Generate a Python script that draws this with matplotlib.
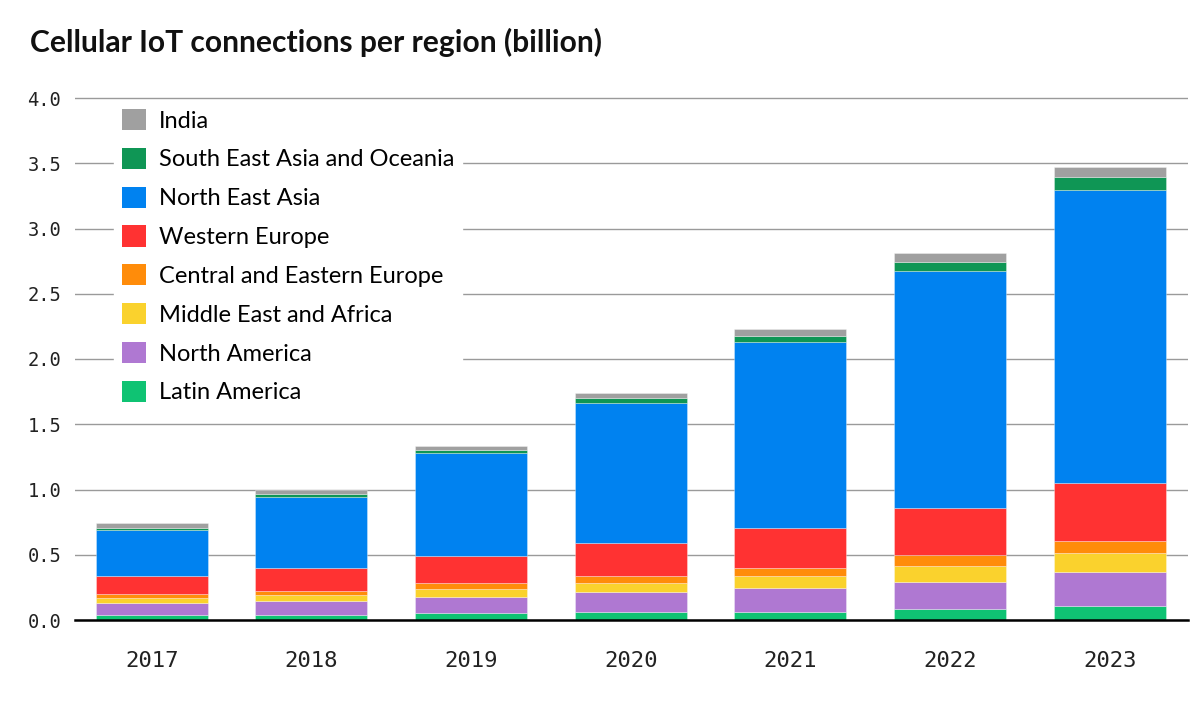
import numpy as np
import matplotlib.pyplot as plt
from matplotlib.patches import Patch

# data (billion connections)
years = ['2017', '2018', '2019', '2020', '2021', '2022', '2023']
latin_america = [0.035, 0.035, 0.050, 0.058, 0.065, 0.088, 0.104]
north_america = [0.092, 0.107, 0.123, 0.153, 0.184, 0.207, 0.260]
middle_east_africa = [0.038, 0.046, 0.061, 0.069, 0.085, 0.115, 0.146]
central_eastern_europe = [0.038, 0.038, 0.046, 0.054, 0.061, 0.085, 0.092]
western_europe = [0.131, 0.169, 0.207, 0.253, 0.307, 0.360, 0.445]
north_east_asia = [0.352, 0.544, 0.790, 1.073, 1.426, 1.818, 2.247]
sea_oceania = [0.016, 0.023, 0.023, 0.040, 0.046, 0.067, 0.099]
india = [0.038, 0.031, 0.030, 0.040, 0.054, 0.070, 0.077]

series = [
    ('Latin America', latin_america, '#0FC373'),
    ('North America', north_america, '#AF78D2'),
    ('Middle East and Africa', middle_east_africa, '#FAD22D'),
    ('Central and Eastern Europe', central_eastern_europe, '#FF8C0A'),
    ('Western Europe', western_europe, '#FF3232'),
    ('North East Asia', north_east_asia, '#0082F0'),
    ('South East Asia and Oceania', sea_oceania, '#0F9655'),
    ('India', india, '#A0A0A0'),
]

fig = plt.figure(figsize=(12, 7.17), dpi=100)
ymax = 4.05
ax = fig.add_axes([75 / 1200, (717 - 620) / 717,
                   (1188 - 75) / 1200, 522 * ymax / 4.0 / 717])

x = np.arange(len(years))
bottom = np.zeros(len(years))
for name, vals, col in series:
    ax.bar(x, vals, width=0.70, bottom=bottom, color=col,
           edgecolor=(1, 1, 1, 0.45), linewidth=0.5, zorder=3)
    bottom += np.array(vals)

ax.set_xlim(-0.48, 6.49)
ax.set_ylim(0, ymax)
ax.set_yticks(np.arange(0, 4.01, 0.5))
ax.set_yticklabels([f'{v:.1f}' for v in np.arange(0, 4.01, 0.5)])
ax.set_xticks(x)
ax.set_xticklabels(years)
ax.tick_params(length=0, colors='#222222')
ax.tick_params(axis='y', pad=10, labelsize=13.5)
ax.tick_params(axis='x', pad=22, labelsize=16)
for lab in ax.get_xticklabels() + ax.get_yticklabels():
    lab.set_family('DejaVu Sans Mono')

ax.grid(axis='y', color='#9a9a9a', linewidth=1.0, zorder=0)
ax.set_axisbelow(True)
for s in ['top', 'right', 'left']:
    ax.spines[s].set_visible(False)
ax.spines['bottom'].set_color('black')
ax.spines['bottom'].set_linewidth(1.8)
ax.spines['bottom'].set_zorder(5)

handles = [Patch(facecolor=col, label=name) for name, vals, col in series][::-1]
leg = ax.legend(handles=handles, loc='upper left',
                bbox_to_anchor=(27 / 1113, 1.005),
                frameon=True, fancybox=False, framealpha=1,
                facecolor='white', edgecolor='white',
                prop={'family': 'Lato', 'size': 17},
                handlelength=1.0, handleheight=1.0, handletextpad=0.55,
                labelspacing=0.685, borderpad=0.35)
leg.set_zorder(4)

fig.text(30 / 1200, 1 - 42 / 717, 'Cellular IoT connections per region (billion)',
         fontsize=21.6, fontweight='bold', family='Lato', va='center',
         color='#111111')

fig.savefig('out.png', dpi=100)
